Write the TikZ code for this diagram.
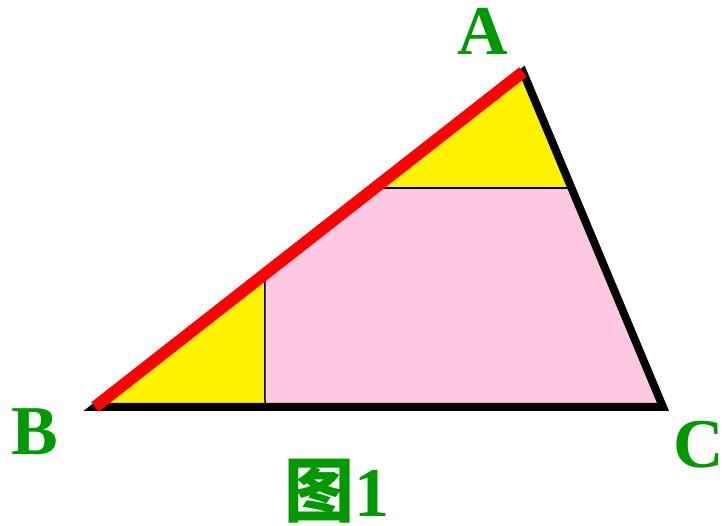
\documentclass[tikz,border=0pt]{standalone}
\usepackage{fontspec}
\setmainfont{Liberation Serif}
\newfontfamily\cjk{Noto Sans CJK SC}
\usepackage{tikz}
\usetikzlibrary{calc}
\definecolor{lblgreen}{RGB}{0,153,0}
\definecolor{pinkfill}{RGB}{255,200,226}

\begin{document}
\begin{tikzpicture}[
  x=1pt, y=-1pt,
  side/.style={draw=black, line width=8pt, miter limit=20, line join=miter},
  redside/.style={draw=red, line width=12pt, line cap=butt},
  thin/.style={draw=black, line width=1.5pt},
  lbl/.style={text=lblgreen, font=\fontsize{70}{70}\selectfont\bfseries,
              anchor=base, inner sep=0pt}
]
\useasboundingbox (0,0) rectangle (724,526);
% --- vertices ----------------------------------------------------------
\coordinate (A) at (523,72);
\coordinate (B) at (95,407);
\coordinate (C) at (663,407);
\coordinate (P) at ($(A)!0.3463!(B)$);
\coordinate (Q) at ($(A)!0.3463!(C)$);
\coordinate (R) at ($(B)!0.397!(A)$);
\coordinate (S) at ($(B)!0.2993!(C)$);
% --- fills -------------------------------------------------------------
\fill[pinkfill] (A) -- (B) -- (C) -- cycle;
\fill[yellow] (A) -- (P) -- (Q) -- cycle;
\fill[yellow] (B) -- (R) -- (S) -- cycle;
\draw[thin] (P) -- (Q);
\draw[thin] (R) -- (S);
% --- sides -------------------------------------------------------------
\draw[side] (B) -- (C) -- (A) -- cycle;
\draw[redside] (B) -- (A);
% --- labels ------------------------------------------------------------
\node[lbl] (labA) at (483,55) {A};
\node[lbl] (labB) at (35,455) {B};
\node[lbl] (labC) at (699,468) {C};
\node[lbl] (fig) at (337,517) {{\cjk 图}1};
\end{tikzpicture}
\end{document}
